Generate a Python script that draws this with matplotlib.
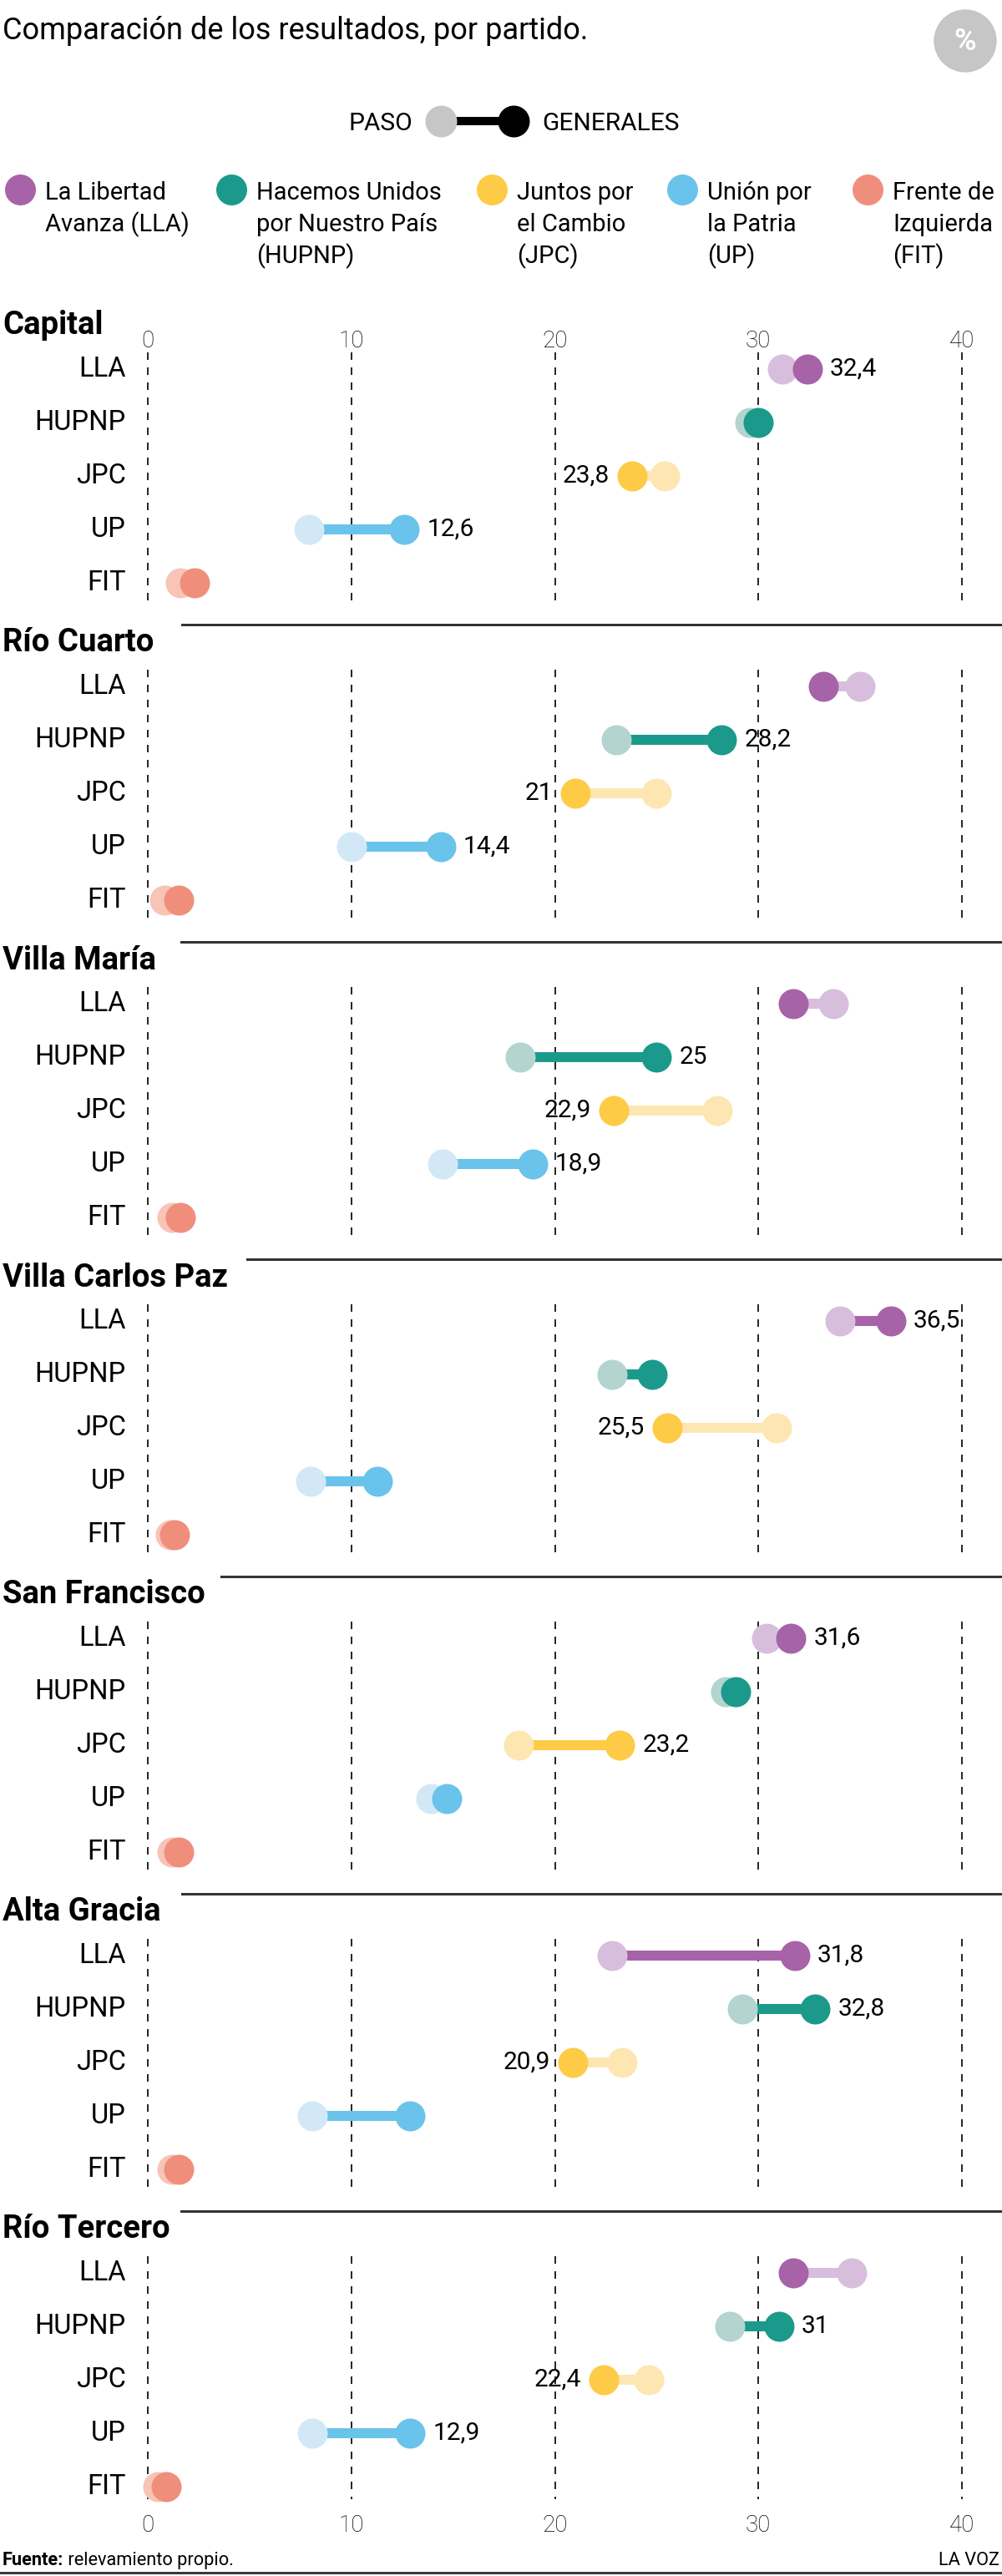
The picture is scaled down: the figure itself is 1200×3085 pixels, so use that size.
import matplotlib
matplotlib.use("Agg")
import matplotlib.pyplot as plt
from matplotlib.patches import Circle

plt.rcParams["font.family"] = ["Roboto", "DejaVu Sans"]
plt.rcParams["lines.scale_dashes"] = False

W, H, DPI = 1200, 3085, 100
PX = 72 / DPI  # points per pixel

# --- data -------------------------------------------------------------------
cities = ["Capital", "Río Cuarto", "Villa María", "Villa Carlos Paz",
          "San Francisco", "Alta Gracia", "Río Tercero"]
parties = ["LLA", "HUPNP", "JPC", "UP", "FIT"]
party_names = ["La Libertad\nAvanza (LLA)", "Hacemos Unidos\npor Nuestro País\n(HUPNP)",
               "Juntos por\nel Cambio\n(JPC)", "Unión por\nla Patria\n(UP)",
               "Frente de\nIzquierda\n(FIT)"]
dark = ["#a763a8", "#1b9a8b", "#fdcb45", "#6ac3ea", "#f08e7c"]
light = ["#d8bedd", "#b3d4cf", "#fee6b3", "#d3e8f7", "#f7c4b6"]

# PASO and GENERALES results (%), one row per city, columns follow `parties`
paso = [
    [31.2, 29.6, 25.4, 7.9, 1.6],
    [35.0, 23.0, 25.0, 10.0, 0.8],
    [33.7, 18.3, 28.0, 14.5, 1.2],
    [34.0, 22.8, 30.9, 8.0, 1.1],
    [30.4, 28.4, 18.2, 13.9, 1.2],
    [22.8, 29.2, 23.3, 8.1, 1.2],
    [34.6, 28.6, 24.6, 8.1, 0.5],
]
generales = [
    [32.4, 30.0, 23.8, 12.6, 2.3],
    [33.2, 28.2, 21.0, 14.4, 1.5],
    [31.7, 25.0, 22.9, 18.9, 1.6],
    [36.5, 24.8, 25.5, 11.3, 1.3],
    [31.6, 28.9, 23.2, 14.7, 1.5],
    [31.8, 32.8, 20.9, 12.9, 1.5],
    [31.7, 31.0, 22.4, 12.9, 0.9],
]
labelled = [
    [1, 0, 1, 1, 0],
    [0, 1, 1, 1, 0],
    [0, 1, 1, 1, 0],
    [1, 0, 1, 0, 0],
    [1, 0, 1, 0, 0],
    [1, 1, 1, 0, 0],
    [0, 1, 1, 1, 0],
]
ticks = [0, 10, 20, 30, 40]

# --- layout -----------------------------------------------------------------
x0_px, x40_px = 177, 1152
u = 40 / (x40_px - x0_px)            # data units per pixel
xlim = (-x0_px * u, 40 + (W - x40_px) * u)
row_px, top_off, panel_h, first_top = 64, 74, 380, 368
sep_start = [0, 218, 217, 296, 265, 218, 217]

fig = plt.figure(figsize=(W / DPI, H / DPI), dpi=DPI)


def box(top, height):
    return [0, 1 - (top + height) / H, 1, height / H]


for i, city in enumerate(cities):
    top = first_top + i * panel_h
    ax = fig.add_axes(box(top, panel_h))
    ax.set_xlim(*xlim)
    y_top = -top_off / row_px
    ax.set_ylim(y_top + panel_h / row_px, y_top)
    for s in ax.spines.values():
        s.set_visible(False)
    ax.set_yticks([])
    ax.patch.set_alpha(0)

    if i == 0:
        ax.xaxis.tick_top()
        ax.set_xticks(ticks)
        ax.tick_params(axis="x", length=0, pad=-39, labelsize=20, labelcolor="#000")
    elif i == len(cities) - 1:
        ax.set_xticks(ticks)
        ax.tick_params(axis="x", length=0, pad=-12, labelsize=20, labelcolor="#000")
    else:
        ax.set_xticks([])
    for lab in ax.get_xticklabels():
        lab.set_fontweight("light")

    if i > 0:
        ax.axhline(y_top, xmin=sep_start[i] / W, xmax=1, color="#333", lw=3 * PX, clip_on=False)

    dash_end = 4 + (15 if i == len(cities) - 1 else 27) / row_px
    ax.vlines(ticks, -20 / row_px, dash_end, colors="#111", lw=1.8 * PX,
              linestyles=[(0, (9 * PX, 9 * PX))], zorder=1)

    ax.text(xlim[0] + 3 * u, y_top + 22 / row_px, city, fontsize=27.5, fontweight="bold",
            va="center", ha="left")

    for r, party in enumerate(parties):
        p, g = paso[i][r], generales[i][r]
        ax.text(-26 * u, r, party, fontsize=23.5, ha="right", va="center")
        ax.plot([p, g], [r, r], color=dark[r] if g > p else light[r], lw=12 * PX,
                solid_capstyle="butt", zorder=2)
        ax.plot(p, r, "o", ms=36 * PX, mew=0, color=light[r], zorder=3)
        ax.plot(g, r, "o", ms=36 * PX, mew=0, color=dark[r], zorder=4)
        if labelled[i][r]:
            txt = f"{g:g}".replace(".", ",")
            right = g >= p
            ax.annotate(txt, (g, r), xytext=(27 * PX if right else -27 * PX, 0),
                        textcoords="offset points", ha="left" if right else "right",
                        va="center", fontsize=21.5)

# --- header / footer overlay (pixel coordinates) -----------------------------
ov = fig.add_axes([0, 0, 1, 1])
ov.set_xlim(0, W)
ov.set_ylim(H, 0)
ov.axis("off")
ov.patch.set_alpha(0)

ov.text(3, 47, "Comparación de los resultados, por partido.", fontsize=26, va="baseline")
ov.add_patch(Circle((1156, 49), 37, color="#c6c6c6"))
ov.text(1156, 50, "%", color="white", fontsize=26, fontweight="bold", ha="center", va="center")

ov.text(494, 156, "PASO", fontsize=21.5, ha="right", va="baseline")
ov.plot([528, 615], [145, 145], color="black", lw=10 * PX, solid_capstyle="butt")
ov.plot(528, 145, "o", ms=38 * PX, mew=0, color="#c6c6c6")
ov.plot(615, 145, "o", ms=38 * PX, mew=0, color="black")
ov.text(649, 156, "GENERALES", fontsize=21.5, ha="left", va="baseline")

leg_x = [24, 277, 589, 817, 1039]
for k, name in enumerate(party_names):
    ov.plot(leg_x[k], 227, "o", ms=37 * PX, mew=0, color=dark[k])
    for j, line in enumerate(name.split("\n")):
        ov.text(leg_x[k] + 30, 239 + 38 * j, line, fontsize=21, ha="left", va="baseline")

t1 = ov.text(3, 3072, "Fuente:", fontsize=15.7, fontweight="bold", va="baseline")
ov.annotate(" relevamiento propio.", xy=(1, 0), xycoords=t1, fontsize=15.7,
            va="bottom", ha="left")
ov.text(1197, 3072, "LA VOZ", fontsize=15.7, ha="right", va="baseline")
ov.plot([0, W], [3081, 3081], color="#3a3a3a", lw=3 * PX)

fig.savefig("out.png", dpi=DPI)
